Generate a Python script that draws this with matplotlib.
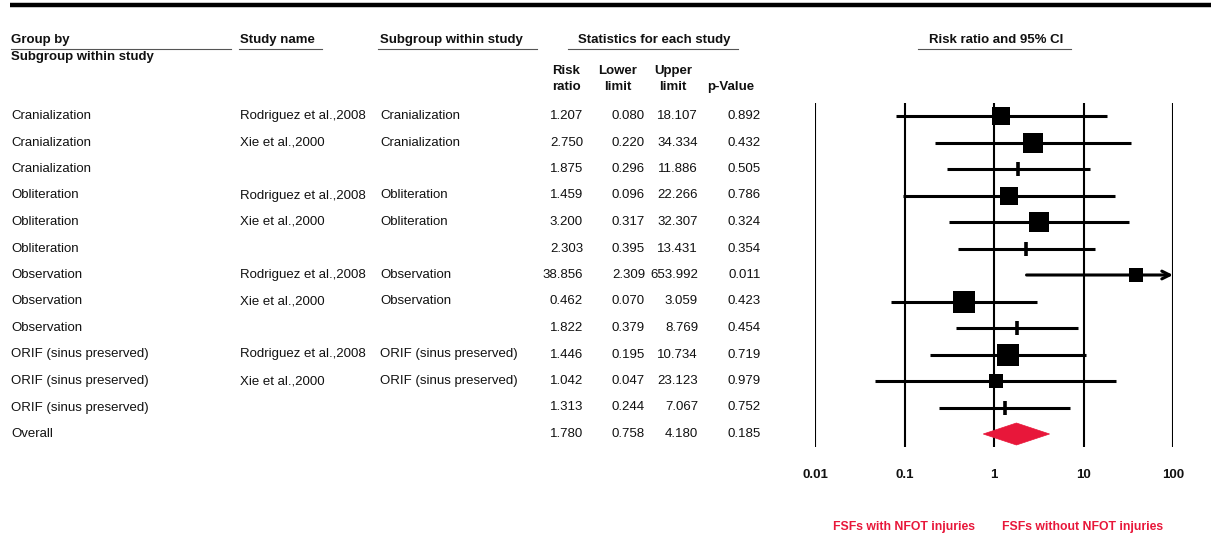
import numpy as np
import matplotlib
matplotlib.use("Agg")
import matplotlib.pyplot as plt
from matplotlib.patches import Polygon

plt.rcParams['font.family'] = ['Liberation Sans', 'DejaVu Sans']

# ---- data -------------------------------------------------------------
group_by = ["Cranialization", "Cranialization", "Cranialization",
            "Obliteration", "Obliteration", "Obliteration",
            "Observation", "Observation", "Observation",
            "ORIF (sinus preserved)", "ORIF (sinus preserved)", "ORIF (sinus preserved)",
            "Overall"]
study_name = ["Rodriguez et al.,2008", "Xie et al.,2000", "",
              "Rodriguez et al.,2008", "Xie et al.,2000", "",
              "Rodriguez et al.,2008", "Xie et al.,2000", "",
              "Rodriguez et al.,2008", "Xie et al.,2000", "",
              ""]
subgroup = ["Cranialization", "Cranialization", "",
            "Obliteration", "Obliteration", "",
            "Observation", "Observation", "",
            "ORIF (sinus preserved)", "ORIF (sinus preserved)", "",
            ""]
risk_ratio = [1.207, 2.750, 1.875, 1.459, 3.200, 2.303, 38.856, 0.462, 1.822,
              1.446, 1.042, 1.313, 1.780]
lower_limit = [0.080, 0.220, 0.296, 0.096, 0.317, 0.395, 2.309, 0.070, 0.379,
               0.195, 0.047, 0.244, 0.758]
upper_limit = [18.107, 34.334, 11.886, 22.266, 32.307, 13.431, 653.992, 3.059, 8.769,
               10.734, 23.123, 7.067, 4.180]
p_value = [0.892, 0.432, 0.505, 0.786, 0.324, 0.354, 0.011, 0.423, 0.454,
           0.719, 0.979, 0.752, 0.185]
row_kind = ["study", "study", "subtotal"] * 4 + ["overall"]
axis_ticks = [0.01, 0.1, 1, 10, 100]
axis_labels = ["0.01", "0.1", "1", "10", "100"]
favours_left = "FSFs with NFOT injuries"
favours_right = "FSFs without NFOT injuries"

# ---- figure -----------------------------------------------------------
W, H = 1211, 533
fig = plt.figure(figsize=(W / 100, H / 100), dpi=100)
fig.patch.set_facecolor("white")

# pixel-space layer for the table text
bg = fig.add_axes([0, 0, 1, 1])
bg.set_xlim(0, W)
bg.set_ylim(H, 0)
bg.axis("off")

RED = "#E8173A"
FS = 9.5
row0, pitch = 116, 26.5
n = len(risk_ratio)


def row_y(i):
    return row0 + pitch * i


# top rule
bg.plot([10, W], [5, 5], color="black", lw=3.2, solid_capstyle="butt")

# header
hdr = dict(fontsize=FS, fontweight="bold", va="center", color="#111111")
bg.text(11, 40, "Group by", ha="left", **hdr)
bg.text(11, 57, "Subgroup within study", ha="left", **hdr)
bg.text(240, 40, "Study name", ha="left", **hdr)
bg.text(380, 40, "Subgroup within study", ha="left", **hdr)
bg.text(654, 40, "Statistics for each study", ha="center", **hdr)
bg.text(996, 40, "Risk ratio and 95% CI", ha="center", **hdr)
for x0, x1 in [(11, 231), (239, 322), (378, 537), (568, 738), (918, 1071)]:
    bg.plot([x0, x1], [49, 49], color="#555555", lw=0.8)

for cx, top, bottom in [(566, "Risk", "ratio"), (618, "Lower", "limit"),
                        (673, "Upper", "limit")]:
    bg.text(cx, 71, top, ha="center", **hdr)
    bg.text(cx, 87, bottom, ha="center", **hdr)
bg.text(731, 87, "p-Value", ha="center", **hdr)

# table rows
for i in range(n):
    y = row_y(i)
    kw = dict(fontsize=FS, va="center", color="#111111")
    bg.text(11, y, group_by[i], ha="left", **kw)
    bg.text(240, y, study_name[i], ha="left", **kw)
    bg.text(380, y, subgroup[i], ha="left", **kw)
    bg.text(583, y, f"{risk_ratio[i]:.3f}", ha="right", **kw)
    bg.text(645, y, f"{lower_limit[i]:.3f}", ha="right", **kw)
    bg.text(698, y, f"{upper_limit[i]:.3f}", ha="right", **kw)
    bg.text(761, y, f"{p_value[i]:.3f}", ha="right", **kw)

# ---- forest panel -----------------------------------------------------
x_left, x_right = 815, 1173
y_top, y_bot = 103, 447
ax = fig.add_axes([x_left / W, 1 - y_bot / H, (x_right - x_left) / W, (y_bot - y_top) / H])
ax.set_xscale("log")
ax.set_xlim(axis_ticks[0], axis_ticks[-1])
ax.set_ylim((y_bot - row0) / pitch, (y_top - row0) / pitch)
ax.patch.set_alpha(0)
for s in ax.spines.values():
    s.set_visible(False)
ax.set_yticks([])
ax.set_xticks(axis_ticks)
ax.set_xticklabels(axis_labels, fontsize=FS, fontweight="bold", color="#111111")
ax.tick_params(axis="x", length=0, pad=16)
ax.minorticks_off()
for t in axis_ticks:
    ax.axvline(t, color="black", lw=1.5, zorder=1)

# inverse-variance weights -> box sizes relative within each subgroup
se = (np.log(upper_limit) - np.log(lower_limit)) / (2 * 1.96)
w = 1 / se ** 2
px_to_pt = 72 / 100
for g in range(4):
    idx = [3 * g, 3 * g + 1]
    share = w[idx] / w[idx].sum()
    for k, i in enumerate(idx):
        y = i
        lo, hi, rr = lower_limit[i], upper_limit[i], risk_ratio[i]
        side_px = 26.5 * np.sqrt(share[k])
        if hi > axis_ticks[-1]:
            ax.annotate("", xy=(axis_ticks[-1], y), xytext=(lo, y),
                        arrowprops=dict(arrowstyle="->", lw=2.2, color="black",
                                        mutation_scale=14, shrinkA=0, shrinkB=0),
                        zorder=3)
        else:
            ax.plot([lo, hi], [y, y], color="black", lw=2.2,
                    solid_capstyle="butt", zorder=3)
        ax.plot([rr], [y], marker="s", ms=side_px * px_to_pt, mew=0,
                color="black", zorder=4)

for i in range(n):
    if row_kind[i] == "subtotal":
        ax.plot([lower_limit[i], upper_limit[i]], [i, i], color="black", lw=2.2,
                solid_capstyle="butt", zorder=3)
        ax.plot([risk_ratio[i]], [i], marker="|", ms=10, mew=2.6,
                color="black", zorder=4)
    elif row_kind[i] == "overall":
        h = 11 / pitch
        ax.add_patch(Polygon([[lower_limit[i], i], [risk_ratio[i], i - h],
                              [upper_limit[i], i], [risk_ratio[i], i + h]],
                             closed=True, facecolor=RED, edgecolor=RED,
                             lw=0.5, zorder=5))

# favours labels
bg.text(904, 527, favours_left, ha="center", va="center", fontsize=8.8,
        fontweight="bold", color=RED)
bg.text(1083, 527, favours_right, ha="center", va="center", fontsize=8.8,
        fontweight="bold", color=RED)

fig.savefig("out.png", dpi=100, facecolor="white")
